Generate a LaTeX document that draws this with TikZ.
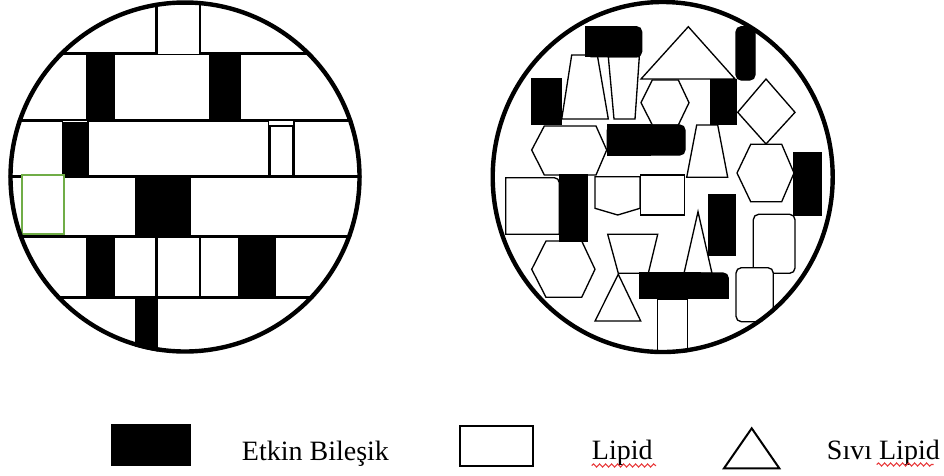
\documentclass[tikz,border=0pt]{standalone}
\usepackage{fontspec}
\setmainfont{Liberation Serif}
\usetikzlibrary{decorations.pathmorphing}
\definecolor{wordgreen}{HTML}{70AD47}
\definecolor{spellred}{HTML}{E8393A}
\begin{document}
\begin{tikzpicture}[x=0.75pt,y=-0.75pt,
  cell/.style={draw=black,fill=white,line width=1pt},
  blk/.style={draw=black,fill=black,line width=1pt},
  shp/.style={draw=black,fill=white,line width=1pt,line join=miter},
  rshp/.style={draw=black,fill=white,line width=1pt,rounded corners=4pt},
  blkshp/.style={draw=black,fill=black,line width=1pt},
  rblk/.style={draw=black,fill=black,line width=1pt,rounded corners=4pt},
  ring/.style={draw=black,line width=3.3pt},
  legendtext/.style={font=\fontsize{21}{25}\selectfont,anchor=base west,inner sep=0pt},
  wavy/.style={draw=spellred,line width=0.8pt,decorate,decoration={snake,amplitude=1.2,segment length=4.5}}
]
\useasboundingbox (0,0) rectangle (944,475);

% ---------- left particle: layered lattice ----------
\begin{scope}
\clip (185,177) circle [radius=176.5];
% band A
\draw[cell] (-20,-20) rectangle (156,53);
\draw[cell] (200.7,-20) rectangle (380,53);
\draw[cell] (157.3,4) rectangle (199.3,54.3);
% row 1
\draw[cell] (-20,54.5) rectangle (86.7,120);
\draw[blk]  (86.7,54.5) rectangle (114,120);
\draw[cell] (114,54.5) rectangle (210,120);
\draw[blk]  (210,54.5) rectangle (240,120);
\draw[cell] (240,54.5) rectangle (380,120);
% row 2
\draw[cell] (-20,121.5) rectangle (62.7,175.5);
\draw[blk]  (62.7,122.5) rectangle (88,175.5);
\draw[cell] (88,121.5) rectangle (268.7,175.5);
\draw[cell] (270,126) rectangle (292.7,175.5);
\draw[cell] (294,121.5) rectangle (380,175.5);
% row 3
\draw[cell] (-20,177) rectangle (136,236);
\draw[blk]  (136,177) rectangle (190,236);
\draw[cell] (190,177) rectangle (380,236);
\draw[draw=wordgreen,fill=white,line width=1.3pt] (21.7,175) rectangle (63.7,234);
% row 4
\draw[cell] (-20,237.5) rectangle (86.7,297);
\draw[blk]  (86.7,237.5) rectangle (114,297);
\draw[cell] (114,237.5) rectangle (156,297);
\draw[cell] (157,237.5) rectangle (199.3,297);
\draw[cell] (200.7,237.5) rectangle (238.3,297);
\draw[blk]  (238.3,237.5) rectangle (275,297);
\draw[cell] (275,237.5) rectangle (380,297);
% row 5
\draw[cell] (-20,298.5) rectangle (136,380);
\draw[blk]  (136,298.5) rectangle (157,352.7);
\draw[cell] (157,298.5) rectangle (380,380);
\end{scope}
\draw[ring] (185,177) circle [radius=174.5];

% ---------- right particle: disordered mixture ----------
\begin{scope}
\clip (662.7,177) ellipse [x radius=172, y radius=177];
% lipid and liquid-lipid shapes
\draw[shp] (571.7,55) -- (597.3,55) -- (608.3,119) -- (561.7,119) -- cycle;
\draw[shp] (608.3,56.7) -- (639.3,56.7) -- (635,119) -- (614,119) -- cycle;
\draw[shp] (531.7,150) -- (544.3,126) -- (596,126) -- (606.7,150) -- (596,175) -- (544.3,175) -- cycle;
\draw[shp] (688.3,26.7) -- (735,79) -- (641,79) -- cycle;
\draw[shp] (641,102.7) -- (652.3,80) -- (678.3,80) -- (689,102.7) -- (678.3,125) -- (652.3,125) -- cycle;
\draw[shp] (766,79) -- (795,112.3) -- (766,144) -- (737.7,112.3) -- cycle;
\draw[shp] (696.7,125) -- (717.7,125) -- (727.7,177.3) -- (686.7,177.3) -- cycle;
\draw[shp] (737,173) -- (750.7,144.3) -- (781.7,144.3) -- (794,173) -- (781.7,201.7) -- (750.7,201.7) -- cycle;
\draw[shp] (505.7,234.3) -- (505.7,177.7) -- (554.3,177.7) arc[start angle=-90, end angle=0, radius=5] -- (559.3,234.3) -- cycle;
\draw[shp] (595,176.7) -- (640,176.7) -- (640,208.3) -- (617.7,215) -- (595,208.3) -- cycle;
\draw[shp] (640.7,175) rectangle (684.3,215);
\draw[shp] (531.7,269.3) -- (546,241) -- (581.7,241) -- (595,269.3) -- (581.7,297.3) -- (546,297.3) -- cycle;
\draw[shp] (607.7,234.3) -- (657.7,234.3) -- (648.3,273.3) -- (618.3,273.3) -- cycle;
\draw[shp] (618.3,274.3) -- (640.7,321) -- (595,321) -- cycle;
\draw[shp] (657.7,299.3) rectangle (687.3,352);
\draw[shp] (698,211.7) -- (712,273.3) -- (684,273.3) -- cycle;
\draw[rshp] (753.3,214.3) rectangle (795,273.3);
\draw[rshp] (736,267.7) rectangle (773.3,321.7);
% active compound
\draw[rblk] (585.7,26.7) rectangle (641.7,56.7);
\draw[blkshp] (585.7,26.7) rectangle (620,56.7);
\draw[blkshp] (531.7,79) rectangle (561,124.3);
\draw[rblk] (607.3,125) rectangle (685,155);
\draw[blkshp] (607.3,125) rectangle (650,155);
\draw[rblk] (736,26.7) rectangle (755,80);
\draw[blkshp] (711,80) rectangle (736.7,124.3);
\draw[blkshp] (794,152.7) rectangle (821.7,215.7);
\draw[blkshp] (559.3,175) rectangle (587.3,241);
\draw[rblk] (640,273) rectangle (728.3,298.3);
\draw[blkshp] (640,273) rectangle (700,298.3);
\draw[blkshp] (700,285) rectangle (728.3,298.3);
\draw[blkshp] (709,194.3) rectangle (735,255);
\end{scope}
\draw[ring] (662.7,177) ellipse [x radius=170, y radius=175];

% ---------- legend ----------
\draw[blk] (111.7,425) rectangle (190,465.7);
\node[legendtext] (lgA) at (241.7,460) {Etkin Bileşik};
\draw[draw=black,fill=white,line width=1.5pt] (460,425.7) rectangle (532.7,465.7);
\node[legendtext] (lgB) at (591.7,459) {Lipid};
\draw[draw=black,line width=1.5pt,line join=miter] (751.7,428.3) -- (779.3,468.3) -- (724,468.3) -- cycle;
\node[legendtext] (lgC) at (826.7,459) {Sıvı Lipid};
\coordinate (wA1) at (591.7,465.5);
\coordinate (wA2) at (656,465.5);
\coordinate (wB1) at (876.7,464.5);
\coordinate (wB2) at (933.5,464.5);
\draw[wavy] (wA1) -- (wA2);
\draw[wavy] (wB1) -- (wB2);
\end{tikzpicture}
\end{document}
